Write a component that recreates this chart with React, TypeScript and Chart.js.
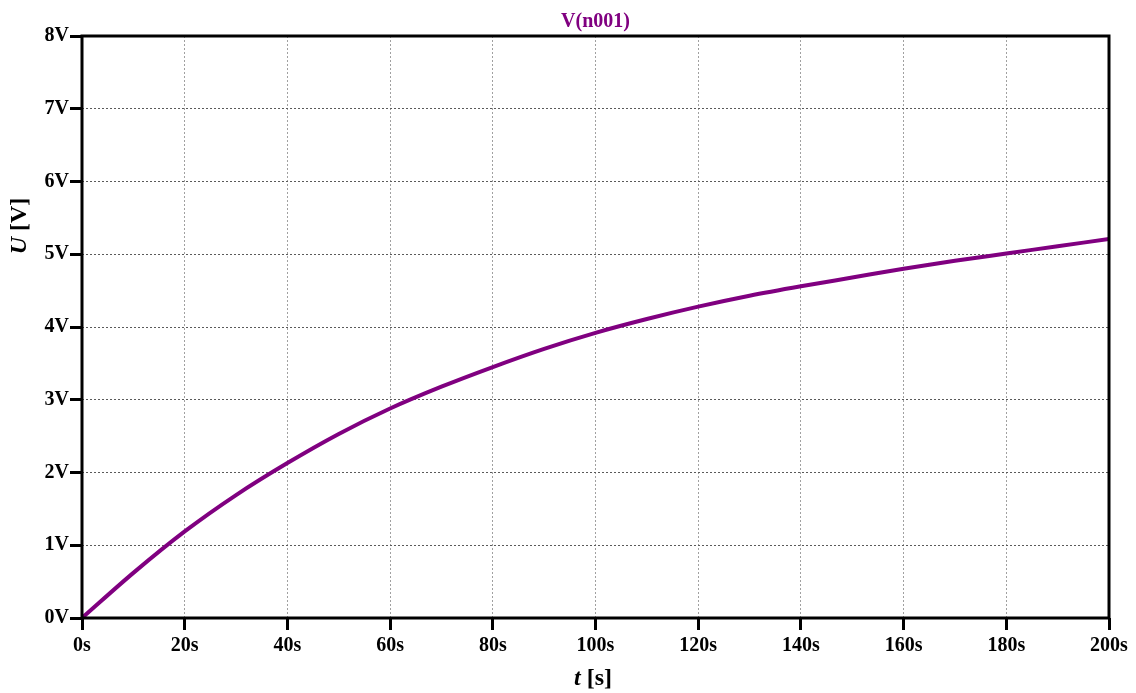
import React, { useEffect, useRef } from "react";
import { Chart, registerables } from "chart.js";

Chart.register(...registerables);

const times = [0, 10, 20, 30, 40, 50, 60, 70, 80, 90, 100, 110, 120, 130, 140, 150, 160, 170, 180, 190, 200];
const voltages = [0, 0.62, 1.19, 1.69, 2.13, 2.53, 2.88, 3.18, 3.45, 3.7, 3.92, 4.11, 4.28, 4.43, 4.56, 4.68, 4.8, 4.91, 5.01, 5.11, 5.21];
const seriesName = "V(n001)";
const xTickUnit = "s";
const yTickUnit = "V";

const FONT = "'Liberation Serif', 'Times New Roman', serif";
const PURPLE = "#800080";

const overlay = {
  id: "overlay",
  afterDatasetsDraw(chart: any) {
    const { ctx, chartArea } = chart;
    const { left, right, top, bottom } = chartArea;
    ctx.save();
    // frame
    ctx.strokeStyle = "#000";
    ctx.lineWidth = 3;
    ctx.setLineDash([]);
    ctx.strokeRect(left, top, right - left, bottom - top);
    // title
    ctx.fillStyle = PURPLE;
    ctx.font = `bold 20px ${FONT}`;
    ctx.textAlign = "center";
    ctx.textBaseline = "middle";
    ctx.fillText(seriesName, (left + right) / 2, 22);
    // x title: t [s]
    ctx.fillStyle = "#000";
    ctx.textBaseline = "middle";
    const xi = `italic bold 24px ${FONT}`;
    const xn = `bold 24px ${FONT}`;
    ctx.font = xi;
    const w1 = ctx.measureText("t").width;
    ctx.font = xn;
    const w2 = ctx.measureText(" [s]").width;
    let sx = 593 - (w1 + w2) / 2;
    ctx.textAlign = "left";
    ctx.font = xi;
    ctx.fillText("t", sx, 679);
    ctx.font = xn;
    ctx.fillText(" [s]", sx + w1, 679);
    // y title: U [V]
    ctx.translate(20, 226);
    ctx.rotate(-Math.PI / 2);
    ctx.font = xi;
    const u1 = ctx.measureText("U").width;
    ctx.font = xn;
    const u2 = ctx.measureText(" [V]").width;
    sx = -(u1 + u2) / 2;
    ctx.font = xi;
    ctx.fillText("U", sx, 0);
    ctx.font = xn;
    ctx.fillText(" [V]", sx + u1, 0);
    ctx.restore();
  },
};

export default function App() {
  const ref = useRef<HTMLCanvasElement>(null);
  useEffect(() => {
    document.body.style.margin = "0";
    const chart = new Chart(ref.current!, {
      type: "line",
      data: {
        datasets: [
          {
            label: seriesName,
            data: times.map((t, i) => ({ x: t, y: voltages[i] })),
            borderColor: PURPLE,
            borderWidth: 4,
            pointRadius: 0,
            cubicInterpolationMode: "monotone",
            fill: false,
          },
        ],
      },
      options: {
        animation: false,
        responsive: false,
        maintainAspectRatio: false,
        layout: { padding: { left: 0, right: 27, top: 36, bottom: 0 } },
        plugins: { legend: { display: false }, title: { display: false }, tooltip: { enabled: false } },
        scales: {
          x: {
            type: "linear",
            min: 0,
            max: 200,
            afterFit: (s: any) => { s.height = 75; },
            ticks: {
              stepSize: 20,
              callback: (v: any) => `${v}${xTickUnit}`,
              color: "#000",
              font: { family: FONT, size: 20, weight: "bold" },
              padding: 4,
              maxRotation: 0,
            },
            grid: {
              color: "#a0a0a0",
              lineWidth: 1,
              tickLength: 12,
              tickColor: "#000",
              tickWidth: 3,
            },
            border: { display: false, dash: [2, 2] },
          },
          y: {
            type: "linear",
            min: 0,
            max: 8,
            afterFit: (s: any) => { s.width = 82; },
            ticks: {
              stepSize: 1,
              callback: (v: any) => `${v}${yTickUnit}`,
              color: "#000",
              font: { family: FONT, size: 20, weight: "bold" },
              padding: 1,
            },
            grid: {
              color: "#5a5a5a",
              lineWidth: 1,
              tickLength: 12,
              tickColor: "#000",
              tickWidth: 3,
            },
            border: { display: false, dash: [2, 2] },
          },
        },
      } as any,
      plugins: [overlay],
    });
    return () => chart.destroy();
  }, []);
  return (
    <div style={{ position: "absolute", left: 0, top: 0, width: 1136, height: 693, background: "#fff" }}>
      <canvas ref={ref} width={1136} height={693} style={{ width: 1136, height: 693 }} />
    </div>
  );
}
